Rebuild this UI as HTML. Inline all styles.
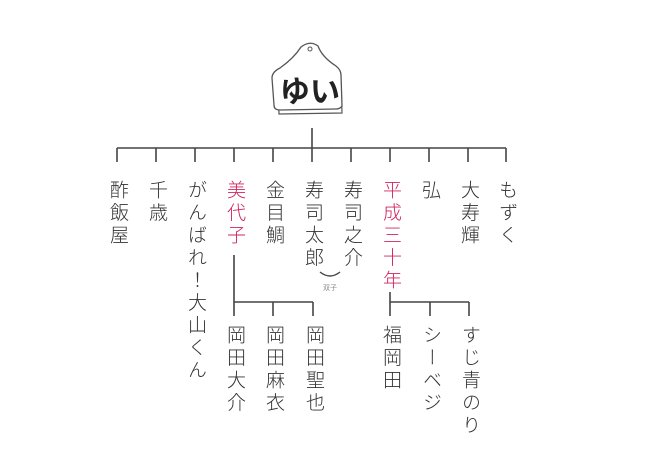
<!DOCTYPE html>
<html><head><meta charset="utf-8"><style>
body{margin:0;width:650px;height:468px;background:#fff;position:relative;overflow:hidden;font-family:"Liberation Sans","Noto Sans CJK JP",sans-serif;}
.c{position:absolute;writing-mode:vertical-rl;font-size:19px;line-height:20px;width:20px;letter-spacing:3.5px;color:#333;font-weight:300;}
.r{color:#d0245e;}
svg{position:absolute;left:0;top:0;}
</style></head><body>
<svg width="650" height="468">
<g stroke="#444" stroke-width="1.6" fill="none">
<line x1="312" y1="128" x2="312" y2="148"/>
<line x1="117" y1="148" x2="506" y2="148"/>
<line x1="117" y1="148" x2="117" y2="162"/><line x1="156" y1="148" x2="156" y2="162"/>
<line x1="195" y1="148" x2="195" y2="162"/><line x1="234" y1="148" x2="234" y2="162"/>
<line x1="273" y1="148" x2="273" y2="162"/><line x1="312" y1="148" x2="312" y2="162"/>
<line x1="351" y1="148" x2="351" y2="162"/><line x1="390" y1="148" x2="390" y2="162"/>
<line x1="429" y1="148" x2="429" y2="162"/><line x1="468" y1="148" x2="468" y2="162"/>
<line x1="506" y1="148" x2="506" y2="162"/>
<line x1="234" y1="255" x2="234" y2="316"/>
<line x1="234" y1="302" x2="313" y2="302"/>
<line x1="273" y1="302" x2="273" y2="316"/><line x1="313" y1="302" x2="313" y2="316"/>
<line x1="390" y1="292" x2="390" y2="316"/>
<line x1="390" y1="302" x2="469" y2="302"/>
<line x1="430" y1="302" x2="430" y2="316"/><line x1="469" y1="302" x2="469" y2="316"/>
<path d="M320 272 Q330 280 340 272" stroke-width="1.4"/>
<path d="M278 84 L279 114 L342 113 L341 82" stroke="#555" stroke-width="1.2" fill="#fff"/>
<path d="M301 47 Q310 40 318 46 Q322 57 336 66 Q341 70 341 75 L342 106 Q340 109 336 109 L280 110 Q274 110 274 105 L272 78 Q272 72 280 68 Q294 58 301 47 Z" stroke="#555" stroke-width="1.3" fill="#fff"/>
<circle cx="310" cy="49" r="2" stroke="#555" stroke-width="1"/>
</g>
<text x="310" y="102" font-size="30" font-weight="bold" text-anchor="middle" fill="#222" font-family="Noto Sans CJK JP, sans-serif">ゆい</text>
<text x="330" y="290" font-size="7" text-anchor="middle" fill="#888" font-family="Noto Sans CJK JP, sans-serif">双子</text>
</svg>
<div class="c" style="left:107px;top:180px">酢飯屋</div>
<div class="c" style="left:146px;top:180px">千歳</div>
<div class="c" style="left:185px;top:180px">がんばれ！大山くん</div>
<div class="c r" style="left:224px;top:180px">美代子</div>
<div class="c" style="left:263px;top:180px">金目鯛</div>
<div class="c" style="left:302px;top:180px">寿司太郎</div>
<div class="c" style="left:341px;top:180px">寿司之介</div>
<div class="c r" style="left:380px;top:180px">平成三十年</div>
<div class="c" style="left:419px;top:180px">弘</div>
<div class="c" style="left:458px;top:180px">大寿輝</div>
<div class="c" style="left:496px;top:180px">もずく</div>
<div class="c" style="left:224px;top:325px">岡田大介</div>
<div class="c" style="left:263px;top:325px">岡田麻衣</div>
<div class="c" style="left:303px;top:325px">岡田聖也</div>
<div class="c" style="left:380px;top:325px">福岡田</div>
<div class="c" style="left:420px;top:325px">シーベジ</div>
<div class="c" style="left:459px;top:325px">すじ青のり</div>
</body></html>
